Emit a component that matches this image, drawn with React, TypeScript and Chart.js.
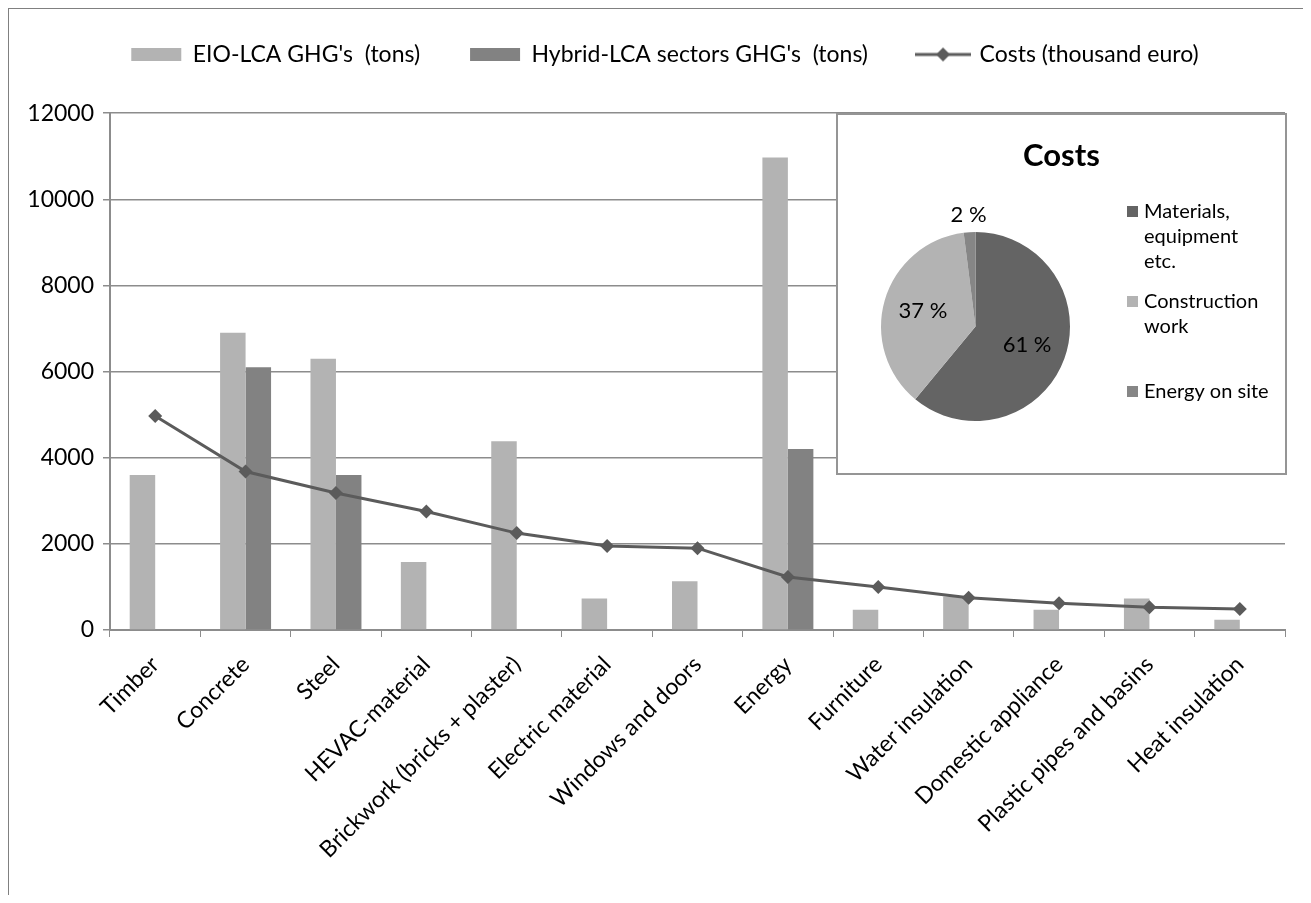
import React, { useEffect, useRef } from 'react';
import { Chart, registerables } from 'chart.js';

Chart.register(...registerables);

// ---- data ----
const categories = [
  'Timber',
  'Concrete',
  'Steel',
  'HEVAC-material',
  'Brickwork (bricks + plaster)',
  'Electric material',
  'Windows and doors',
  'Energy',
  'Furniture',
  'Water insulation',
  'Domestic appliance',
  'Plastic pipes and basins',
  'Heat insulation',
];
const eioGhg = [3600, 6900, 6300, 1580, 4380, 730, 1130, 10970, 470, 780, 470, 730, 240];
const hybridGhg = [null, 6100, 3600, null, null, null, null, 4200, null, null, null, null, null];
const costs = [4970, 3680, 3180, 2750, 2250, 1950, 1900, 1230, 1000, 750, 620, 530, 490];
const yTicks = [0, 2000, 4000, 6000, 8000, 10000, 12000];
const seriesNames = ["EIO-LCA GHG's  (tons)", "Hybrid-LCA sectors GHG's  (tons)", 'Costs (thousand euro)'];

const pieTitle = 'Costs';
const pieLabels = ['Materials, equipment etc.', 'Construction work', 'Energy on site'];
const pieLegendLines = [['Materials,', 'equipment', 'etc.'], ['Construction', 'work'], ['Energy on site']];
const pieShares = [61, 37, 2];

// ---- styles ----
const FONT = 'Lato, "Open Sans", sans-serif';
const EIO_COLOR = '#b3b3b3';
const HYB_COLOR = '#828282';
const LINE_COLOR = '#5b5b5b';
const GRID_COLOR = '#8c8c8c';
const PIE_COLORS = ['#646464', '#b3b3b3', '#868686'];

Chart.defaults.font.family = FONT;
Chart.defaults.color = '#000';

function makeLineKey() {
  const c = document.createElement('canvas');
  c.width = 56;
  c.height = 20;
  const g = c.getContext('2d')!;
  g.strokeStyle = LINE_COLOR;
  g.lineWidth = 3;
  g.beginPath();
  g.moveTo(0, 10);
  g.lineTo(56, 10);
  g.stroke();
  g.fillStyle = LINE_COLOR;
  g.beginPath();
  g.moveTo(28, 3);
  g.lineTo(35, 10);
  g.lineTo(28, 17);
  g.lineTo(21, 10);
  g.closePath();
  g.fill();
  return c;
}

const pieDecor = {
  id: 'pieDecor',
  afterDraw(chart: any) {
    const ctx = chart.ctx as CanvasRenderingContext2D;
    const meta = chart.getDatasetMeta(0);
    const values = chart.data.datasets[0].data as number[];
    const total = values.reduce((a, b) => a + b, 0);
    ctx.save();
    ctx.fillStyle = '#000';
    // title
    ctx.font = `bold 31px ${FONT}`;
    ctx.textAlign = 'center';
    ctx.textBaseline = 'middle';
    ctx.fillText(pieTitle, chart.width / 2, 41);
    // percentage labels
    ctx.font = `22px ${FONT}`;
    meta.data.forEach((arc: any, i: number) => {
      const p = arc.getProps(['x', 'y', 'startAngle', 'endAngle', 'outerRadius'], true);
      const mid = (p.startAngle + p.endAngle) / 2;
      const frac = values[i] / total;
      const r = frac < 0.05 ? p.outerRadius * 1.18 : p.outerRadius * 0.58;
      ctx.fillText(`${values[i]} %`, p.x + Math.cos(mid) * r, p.y + Math.sin(mid) * r);
    });
    // legend
    ctx.font = `20px ${FONT}`;
    ctx.textAlign = 'left';
    pieLegendLines.forEach((lines, i) => {
      const y0 = 97 + i * 90;
      ctx.fillStyle = PIE_COLORS[i];
      ctx.fillRect(289, y0 - 6, 11, 11);
      ctx.fillStyle = '#000';
      lines.forEach((ln, j) => ctx.fillText(ln, 306, y0 + j * 25));
    });
    ctx.restore();
  },
};

export default function App() {
  const mainRef = useRef<HTMLCanvasElement>(null);
  const pieRef = useRef<HTMLCanvasElement>(null);

  useEffect(() => {
    const lineKey = makeLineKey();
    const main = new Chart(mainRef.current!, {
      type: 'bar',
      data: {
        labels: categories,
        datasets: [
          {
            type: 'bar',
            label: seriesNames[0],
            data: eioGhg,
            backgroundColor: EIO_COLOR,
            borderWidth: 0,
            order: 1,
            categoryPercentage: 0.564,
            barPercentage: 1,
          },
          {
            type: 'bar',
            label: seriesNames[1],
            data: hybridGhg as any,
            backgroundColor: HYB_COLOR,
            borderWidth: 0,
            order: 1,
            categoryPercentage: 0.564,
            barPercentage: 1,
          },
          {
            type: 'line',
            label: seriesNames[2],
            data: costs,
            borderColor: LINE_COLOR,
            backgroundColor: LINE_COLOR,
            borderWidth: 3,
            pointStyle: 'rectRot',
            pointRadius: 7,
            pointBackgroundColor: LINE_COLOR,
            pointBorderWidth: 0,
            tension: 0,
            order: 0,
          } as any,
        ],
      },
      options: {
        animation: false,
        responsive: false,
        layout: { padding: { top: -16, left: 0, right: -11, bottom: 0 } },
        plugins: {
          tooltip: { enabled: false },
          legend: {
            position: 'top',
            labels: {
              usePointStyle: true,
              pointStyleWidth: 50,
              boxHeight: 13,
              padding: 50,
              color: '#000',
              font: { size: 23, family: FONT },
              generateLabels: (chart: any) =>
                [0, 1, 2].map((i) => {
                  const ds = chart.data.datasets[i];
                  return {
                    text: ds.label,
                    fillStyle: ds.backgroundColor,
                    strokeStyle: 'rgba(0,0,0,0)',
                    lineWidth: 0,
                    pointStyle: i === 2 ? lineKey : 'rect',
                    datasetIndex: i,
                    hidden: false,
                  };
                }),
            },
          },
          subtitle: {
            display: true,
            text: '',
            weight: 500,
            font: { size: 1 },
            padding: { top: 36, bottom: 0 },
          } as any,
        },
        scales: {
          x: {
            ticks: {
              font: { size: 23, family: FONT },
              color: '#000',
              maxRotation: 45,
              minRotation: 45,
              autoSkip: false,
              padding: 14,
            },
            grid: { drawOnChartArea: false, color: GRID_COLOR, tickLength: 7, offset: true },
            border: { color: GRID_COLOR, width: 2 },
            afterFit: (s: any) => {
              s.height = 265;
            },
          },
          y: {
            min: 0,
            max: 12000,
            afterBuildTicks: (s: any) => {
              s.ticks = yTicks.map((v) => ({ value: v }));
            },
            ticks: {
              font: { size: 23, family: FONT },
              color: '#000',
              padding: 9,
              callback: (v: any) => String(v),
            },
            grid: { color: GRID_COLOR, lineWidth: 1.5, tickLength: 7 },
            border: { color: GRID_COLOR, width: 2 },
            afterFit: (s: any) => {
              s.width = 101;
            },
          },
          spacer: {
            type: 'linear',
            position: 'right',
            display: true,
            grid: { display: false, drawTicks: false },
            ticks: { display: false },
            border: { display: false },
            afterFit: (s: any) => {
              s.width = 36;
            },
          },
        },
      } as any,
    });

    const pie = new Chart(pieRef.current!, {
      type: 'pie',
      data: {
        labels: pieLabels,
        datasets: [{ data: pieShares, backgroundColor: PIE_COLORS, borderWidth: 0 }],
      },
      options: {
        animation: false,
        responsive: false,
        layout: { padding: { left: 43, right: 215, top: 117, bottom: 52 } },
        plugins: { legend: { display: false }, tooltip: { enabled: false } },
      },
      plugins: [pieDecor],
    });

    return () => {
      main.destroy();
      pie.destroy();
    };
  }, []);

  return (
    <div
      style={{
        position: 'relative',
        width: 1301,
        height: 886,
        borderTop: '1px solid #808080',
        borderLeft: '1px solid #808080',
        borderRight: '1px solid #808080',
        overflow: 'hidden',
        background: '#fff',
      }}
    >
      <canvas ref={mainRef} width={1301} height={886} style={{ display: 'block', width: 1301, height: 886 }} />
      <div
        style={{
          position: 'absolute',
          left: 827,
          top: 104,
          width: 451,
          height: 362,
          boxSizing: 'border-box',
          border: '2px solid #959595',
          background: '#fff',
        }}
      >
        <canvas ref={pieRef} width={447} height={358} style={{ display: 'block', width: 447, height: 358 }} />
      </div>
    </div>
  );
}
